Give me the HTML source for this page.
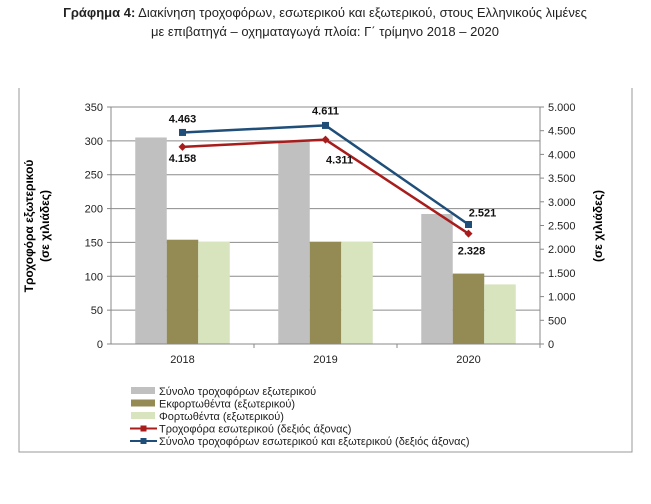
<!DOCTYPE html>
<html><head><meta charset="utf-8"><style>
body{margin:0;background:#fff;width:651px;height:499px;overflow:hidden;font-family:"Liberation Sans","DejaVu Sans",sans-serif;}
</style></head><body>
<svg width="651" height="499" xmlns="http://www.w3.org/2000/svg" font-family="Liberation Sans, DejaVu Sans, sans-serif" id="chart">
<text x="325" y="17" text-anchor="middle" font-size="13" fill="#222"><tspan font-weight="bold">Γράφημα 4:</tspan> Διακίνηση τροχοφόρων, εσωτερικού και εξωτερικού, στους Ελληνικούς λιμένες</text>
<text x="325" y="36" text-anchor="middle" font-size="13" fill="#222">με επιβατηγά – οχηματαγωγά πλοία: Γ΄ τρίμηνο 2018 – 2020</text>
<path d="M19 88 V452 H632 V88" fill="none" stroke="#999" stroke-width="1"/>
<g id="grid"></g><g id="bars"></g><g id="lines"></g><g id="axes"></g>
<text transform="translate(33,226) rotate(-90)" text-anchor="middle" font-size="12" font-weight="bold"><tspan x="0" dy="0">Τροχοφόρα εξωτερικού</tspan><tspan x="0" dy="16">(σε χιλιάδες)</tspan></text>
<text transform="translate(602,226) rotate(-90)" text-anchor="middle" font-size="12" font-weight="bold">(σε χιλιάδες)</text>
<g id="legend" font-size="11" fill="#222"></g>
</svg>
<script>
const categories=["2018","2019","2020"];
const totalForeign=[305,299,192];
const unloaded=[154,151,104];
const loaded=[151,151,88];
const domestic=[4158,4311,2328];
const totalAll=[4463,4611,2521];
const leftTicks=[0,50,100,150,200,250,300,350];
const rightTicks=[0,500,1000,1500,2000,2500,3000,3500,4000,4500,5000];
const rightLabels=["0","500","1.000","1.500","2.000","2.500","3.000","3.500","4.000","4.500","5.000"];
const domesticLabels=["4.158","4.311","2.328"];
const totalLabels=["4.463","4.611","2.521"];

const NS="http://www.w3.org/2000/svg";
const X0=111,X1=540,Y0=344,Y1=107;
const bw=(X1-X0)/categories.length;
const yL=v=>Y0-(v/350)*(Y0-Y1);
const yR=v=>Y0-(v/5000)*(Y0-Y1);
const xC=i=>X0+bw*(i+0.5);
function mk(tag,attrs,parent,text){const e=document.createElementNS(NS,tag);for(const k in attrs)e.setAttribute(k,attrs[k]);if(text!=null)e.textContent=text;document.getElementById(parent).appendChild(e);return e;}
leftTicks.forEach(v=>{
  if(v>0){const g=mk('line',{x1:X0,x2:X1,y1:yL(v),y2:yL(v),stroke:'#8c8c8c','stroke-width':1},'grid');
  
  }
  const t=mk('text',{x:X0-8,y:yL(v)+4,'text-anchor':'end','font-size':11,fill:'#222'},'axes',v);
  
  
  mk('line',{x1:X0-4,x2:X0,y1:yL(v),y2:yL(v),stroke:'#888'},'axes');
});
rightTicks.forEach((v,i)=>{
  const t=mk('text',{x:X1+8,y:yR(v)+4,'font-size':11,fill:'#222'},'axes',rightLabels[i]);
  
  
  mk('line',{x1:X1,x2:X1+4,y1:yR(v),y2:yR(v),stroke:'#888'},'axes');
});
mk('line',{x1:X0,x2:X0,y1:Y1,y2:Y0,stroke:'#888'},'axes');
mk('line',{x1:X1,x2:X1,y1:Y1,y2:Y0,stroke:'#888'},'axes');
mk('line',{x1:X0,x2:X1,y1:Y0,y2:Y0,stroke:'#888'},'axes');
categories.forEach((c,i)=>{
  mk('line',{x1:X0+bw*(i+1),x2:X0+bw*(i+1),y1:Y0,y2:Y0+4,stroke:'#888'},'axes');
  const t=mk('text',{x:xC(i),y:Y0+19,'text-anchor':'middle','font-size':11,fill:'#222'},'axes',c);
  
  
});
const series=[[totalForeign,'#c0c0c0','bar-total-foreign'],[unloaded,'#948a54','bar-unloaded'],[loaded,'#d7e4bd','bar-loaded']];
const w=31.5;
series.forEach((s,si)=>{s[0].forEach((v,i)=>{
  const x=xC(i)-1.5*w+si*w;
  const r=mk('rect',{x:x,y:yL(v),width:w,height:Y0-yL(v),fill:s[1]},'bars');
  
  
});});
function line(vals,color,name,marker,labels,offs){
  const pts=vals.map((v,i)=>xC(i)+','+yR(v)).join(' ');
  const p=mk('polyline',{points:pts,fill:'none',stroke:color,'stroke-width':2.5},'lines');
  
  
  vals.forEach((v,i)=>{
    let m;
    if(marker==='sq') m=mk('rect',{x:xC(i)-3.5,y:yR(v)-3.5,width:7,height:7,fill:color},'lines');
    else m=mk('path',{d:`M${xC(i)} ${yR(v)-4} L${xC(i)+4} ${yR(v)} L${xC(i)} ${yR(v)+4} L${xC(i)-4} ${yR(v)} Z`,fill:color},'lines');
    
    
    const t=mk('text',{x:xC(i)+offs[i][0],y:yR(v)+offs[i][1],'text-anchor':'middle','font-size':11,'font-weight':'bold',fill:'#111'},'lines',labels[i]);
    
    
  });
}
line(domestic,'#a81c1c','line-domestic','dia',domesticLabels,[[0,15],[14,24],[3,21]]);
line(totalAll,'#1f4e79','line-total','sq',totalLabels,[[0,-10],[0,-11],[14,-8]]);
const leg=[['rect','#c0c0c0','Σύνολο τροχοφόρων εξωτερικού'],['rect','#948a54','Εκφορτωθέντα (εξωτερικού)'],['rect','#d7e4bd','Φορτωθέντα  (εξωτερικού)'],['line','#a81c1c','Τροχοφόρα εσωτερικού (δεξιός άξονας)'],['line','#1f4e79','Σύνολο τροχοφόρων εσωτερικού και εξωτερικού (δεξιός άξονας)']];
leg.forEach((l,i)=>{
  const y=391+i*12.5;
  if(l[0]==='rect') mk('rect',{x:131,y:y-4,width:24,height:7,fill:l[1]},'legend');
  else{mk('line',{x1:130,x2:157,y1:y,y2:y,stroke:l[1],'stroke-width':2},'legend');
    mk('rect',{x:140.5,y:y-3,width:6,height:6,fill:l[1]},'legend');}
  const t=mk('text',{x:159,y:y+4,'font-size':11,fill:'#222'},'legend',l[2]);
  
  
});
</script>
</body></html>
